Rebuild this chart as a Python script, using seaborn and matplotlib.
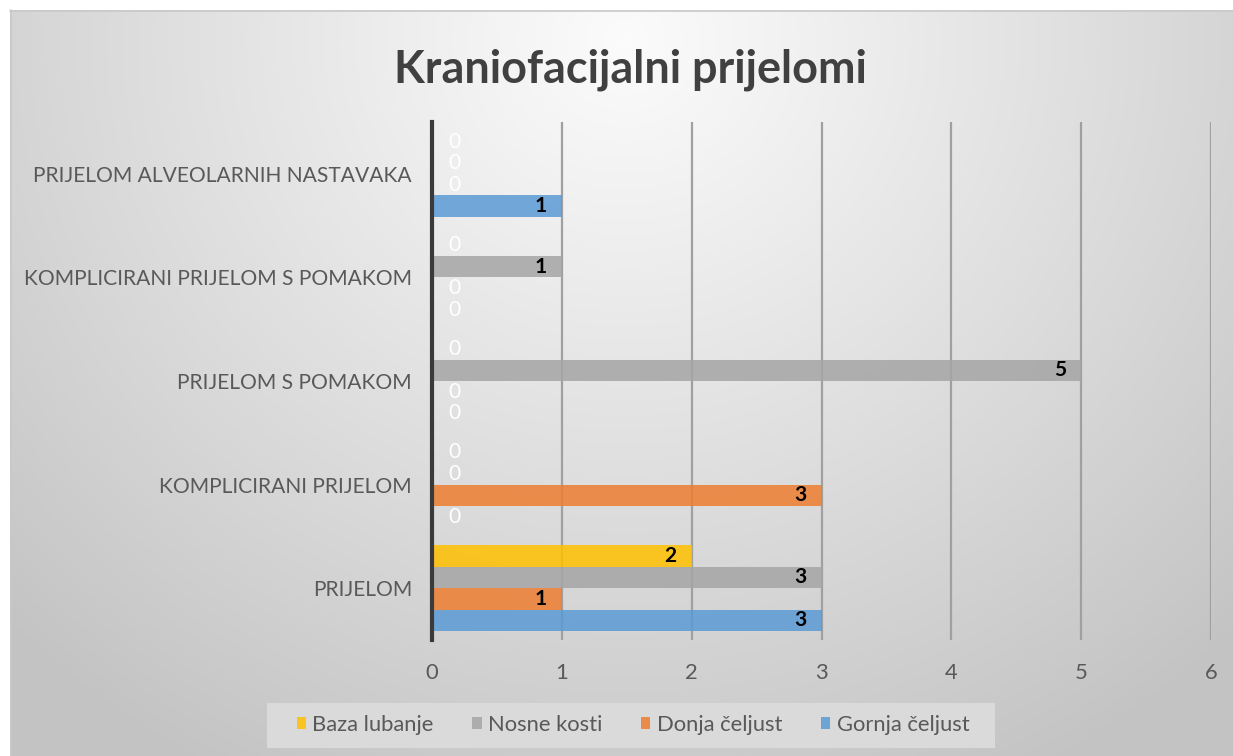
import numpy as np
import pandas as pd
import matplotlib
matplotlib.use("Agg")
import matplotlib.pyplot as plt
from matplotlib.patches import Rectangle
import seaborn as sns

# --- data -------------------------------------------------------------
categories = [
    "PRIJELOM ALVEOLARNIH NASTAVAKA",
    "KOMPLICIRANI PRIJELOM S POMAKOM",
    "PRIJELOM S POMAKOM",
    "KOMPLICIRANI PRIJELOM",
    "PRIJELOM",
]
series = ["Baza lubanje", "Nosne kosti", "Donja čeljust", "Gornja čeljust"]
baza_lubanje = [0, 0, 0, 0, 2]
nosne_kosti = [0, 1, 5, 0, 3]
donja_celjust = [0, 0, 0, 3, 1]
gornja_celjust = [1, 0, 0, 0, 3]
x_ticks = [0, 1, 2, 3, 4, 5, 6]
colors = ["#FFC000", "#A5A5A5", "#ED7D31", "#5B9BD5"]

values = [baza_lubanje, nosne_kosti, donja_celjust, gornja_celjust]
df = pd.DataFrame(
    [(c, s, v[i]) for s, v in zip(series, values) for i, c in enumerate(categories)],
    columns=["kategorija", "serija", "broj"],
)

W, H = 1233, 756
FONT = "Lato"
TXT = "#595959"


def pt(px):
    return px * 0.72


sns.set_theme(style="white")
plt.rcParams["font.family"] = [FONT, "DejaVu Sans"]

fig = plt.figure(figsize=(W / 100, H / 100), dpi=100)
fig.patch.set_facecolor("white")

# radial grey background of the chart area
bg = fig.add_axes([0, 0, 1, 1])
bg.set_axis_off()
yy, xx = np.mgrid[0:H, 0:W]
r = np.hypot((xx - 625) / 1.0, (yy - 40) / 0.95)
shade = 0.985 - 0.22 * np.clip(r / 880, 0, 1) ** 1.05
img = np.dstack([shade] * 3)
mask = (xx < 10) | (yy < 10)
img[mask] = 1.0
bg.imshow(img, extent=[0, W, H, 0], interpolation="bilinear", aspect="auto")
bg.plot([10, W], [10.5, 10.5], color="#c8c8c8", lw=1.2)
bg.plot([10.5, 10.5], [10, H], color="#c8c8c8", lw=1.2)
# legend panel
bg.add_patch(Rectangle((267, 703), 728, 45, facecolor="#dcdcdc", edgecolor="none", alpha=0.92))
bg.set_xlim(0, W)
bg.set_ylim(H, 0)

# plot area
left, right, top, bottom = 432, 1211, 122, 640
ax = fig.add_axes([left / W, 1 - bottom / H, (right - left) / W, (bottom - top) / H])
ax.set_facecolor("none")

sns.barplot(
    data=df, x="broj", y="kategorija", hue="serija",
    order=categories, hue_order=series, palette=colors,
    orient="h", width=0.83, alpha=0.85, saturation=1,
    linewidth=0, ax=ax, zorder=3,
)

ax.set_xlim(0, 6)
ax.set_ylim(len(categories) - 0.5, -0.5)
ax.set_xticks(x_ticks)
ax.set_xticklabels([str(t) for t in x_ticks])
ax.grid(axis="x", color="#a0a0a0", lw=1.6, zorder=1)
ax.grid(axis="y", visible=False)
ax.set_axisbelow(True)
for s in ["top", "right", "bottom"]:
    ax.spines[s].set_visible(False)
ax.spines["left"].set_color("#3a3a3a")
ax.spines["left"].set_linewidth(3)
ax.spines["left"].set_zorder(5)
ax.set_xlabel("")
ax.set_ylabel("")
ax.tick_params(axis="x", length=0, pad=pt(23), labelsize=pt(22), labelcolor=TXT)
ax.tick_params(axis="y", length=0, pad=pt(20), labelsize=pt(21), labelcolor=TXT)

# value labels
for cont in ax.containers:
    for bar in cont:
        v = bar.get_width()
        yc = bar.get_y() + bar.get_height() / 2
        if v > 0:
            ax.annotate(f"{v:g}", xy=(v, yc), xytext=(-pt(15), 0),
                        textcoords="offset points", ha="right", va="center",
                        fontsize=pt(21), fontweight="bold", color="black", zorder=6)
        else:
            ax.annotate(f"{v:g}", xy=(0, yc), xytext=(pt(16), 0),
                        textcoords="offset points", ha="left", va="center",
                        fontsize=pt(21), color="white", zorder=6)

# legend
handles, labels = ax.get_legend_handles_labels()
if ax.get_legend() is not None:
    ax.get_legend().remove()
leg = fig.legend(handles, labels, loc="center", bbox_to_anchor=(633 / W, 1 - 725 / H),
                 ncol=4, frameon=False, fontsize=pt(22), handlelength=0.42,
                 handleheight=0.42, handletextpad=0.3, columnspacing=1.75,
                 borderpad=0.3)
for t in leg.get_texts():
    t.set_color(TXT)

fig.text(630 / W, 1 - 70 / H, "Kraniofacijalni prijelomi", ha="center", va="center",
         fontsize=pt(45), fontweight="bold", color="#404040")

fig.savefig("out.png", dpi=100)
